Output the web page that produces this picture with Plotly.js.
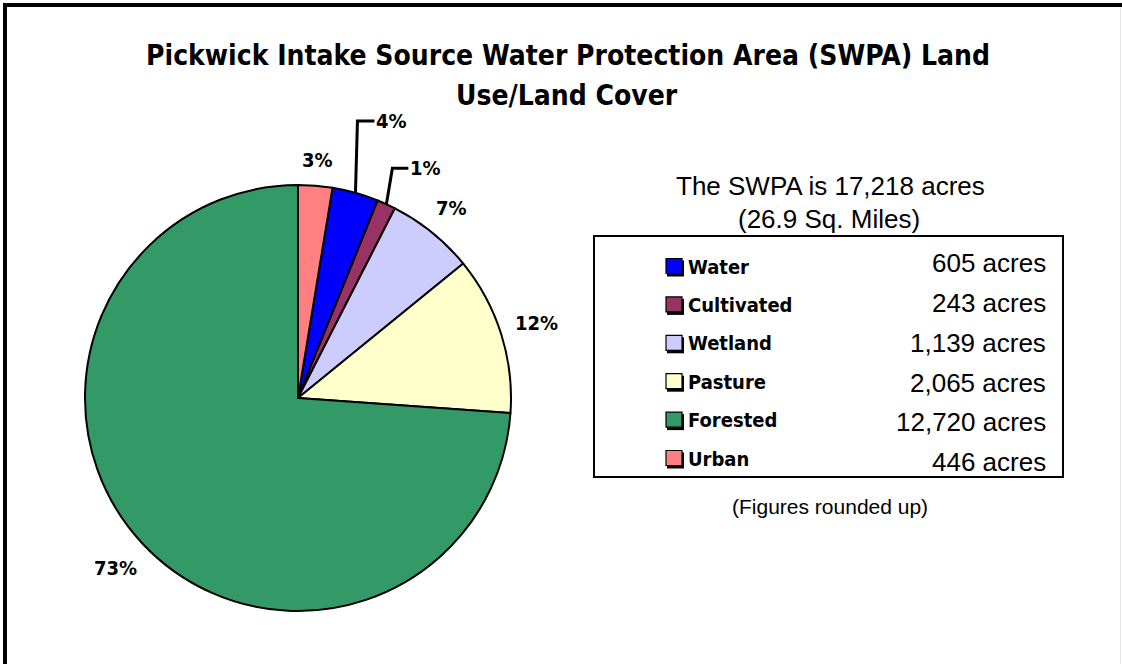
<!DOCTYPE html>
<html>
<head>
<meta charset="utf-8">
<script src="https://cdn.plot.ly/plotly-3.0.1.min.js"></script>
<style>
  html, body { margin: 0; padding: 0; background: #ffffff; }
  #chart { width: 1122px; height: 664px; }
</style>
</head>
<body>
<div id="chart"></div>
<script>
// Land use / land cover categories in the SWPA
const categories = ['Water', 'Cultivated', 'Wetland', 'Pasture', 'Forested', 'Urban'];
const acres = [605, 243, 1139, 2065, 12720, 446];
const percentLabels = ['4%', '1%', '7%', '12%', '73%', '3%'];
const acreLabels = ['605 acres', '243 acres', '1,139 acres', '2,065 acres', '12,720 acres', '446 acres'];
const sliceColors = ['#0000FF', '#993366', '#CCCCFF', '#FFFFCC', '#339966', '#FF8080'];

const titleLine1 = 'Pickwick Intake Source Water Protection Area (SWPA) Land';
const titleLine2 = 'Use/Land Cover';
const totalLine1 = 'The SWPA is 17,218 acres';
const totalLine2 = '(26.9 Sq. Miles)';
const footNote = '(Figures rounded up)';

const W = 1122, H = 664;
const px = x => x / W;          // pixel -> paper x
const py = y => 1 - y / H;      // pixel -> paper y

const heavy = { family: '"DejaVu Sans Condensed", "DejaVu Sans", sans-serif', weight: 'bold', color: '#000000' };
const plain = { family: '"Liberation Sans", Arial, sans-serif', color: '#000000' };

// Pie placement (pixels)
const pieLeft = 85, pieTop = 185, pieSize = 426;
const cx = pieLeft + pieSize / 2, cy = pieTop + pieSize / 2, R = pieSize / 2;

// The last category is drawn first, starting at 12 o'clock
const total = acres.reduce((a, b) => a + b, 0);
const startRotation = acres[acres.length - 1] / total * 360;

const pie = {
  type: 'pie',
  labels: categories,
  values: acres,
  textinfo: 'none',
  sort: false,
  direction: 'clockwise',
  rotation: startRotation,
  marker: { colors: sliceColors, line: { color: '#000000', width: 2 } },
  domain: { x: [px(pieLeft), px(pieLeft + pieSize)], y: [py(pieTop + pieSize), py(pieTop)] },
  hoverinfo: 'label+value+percent',
  showlegend: false
};

const shapes = [
  // outer frame
  { type: 'line', xref: 'paper', yref: 'paper', x0: px(3), x1: px(1122), y0: py(5), y1: py(5), line: { color: '#000', width: 4 } },
  { type: 'line', xref: 'paper', yref: 'paper', x0: px(5), x1: px(5), y0: py(3), y1: py(664), line: { color: '#000', width: 4 } },
  { type: 'line', xref: 'paper', yref: 'paper', x0: px(1120.5), x1: px(1120.5), y0: py(7), y1: py(664), line: { color: '#e6e6e6', width: 1 } },
  // legend box
  { type: 'rect', xref: 'paper', yref: 'paper', x0: px(594), x1: px(1063), y0: py(236), y1: py(477), line: { color: '#000', width: 2 }, fillcolor: 'rgba(0,0,0,0)' }
];

const annotations = [
  { text: titleLine2, xref: 'paper', yref: 'paper', x: px(567), y: py(95), xanchor: 'center', yanchor: 'middle', showarrow: false, font: Object.assign({ size: 28 }, heavy) },
  { text: totalLine1, xref: 'paper', yref: 'paper', x: px(830), y: py(186), xanchor: 'center', yanchor: 'middle', showarrow: false, font: Object.assign({ size: 26 }, plain) },
  { text: totalLine2, xref: 'paper', yref: 'paper', x: px(829), y: py(219), xanchor: 'center', yanchor: 'middle', showarrow: false, font: Object.assign({ size: 26 }, plain) },
  { text: footNote, xref: 'paper', yref: 'paper', x: px(830), y: py(506), xanchor: 'center', yanchor: 'middle', showarrow: false, font: Object.assign({ size: 21 }, plain) }
];

// Percentage labels outside each slice, placed along the slice's mid angle
const labelFont = Object.assign({ size: 20 }, heavy);
const charW = 13, halfH = 9, labelGap = 16;
// small slices get an elbow leader: rise above the rim, then a short run to the right
const leaders = { 0: { rise: 72, lean: 2, run: 17 }, 1: { rise: 36, lean: 6, run: 16 } };
let angle = startRotation;
acres.forEach((v, i) => {
  const sweep = v / total * 360;
  const mid = (angle + sweep / 2) * Math.PI / 180;
  angle += sweep;
  const dx = Math.sin(mid), dy = -Math.cos(mid);
  const rimX = cx + R * dx, rimY = cy + R * dy;
  const ld = leaders[i];
  if (ld) {
    const topY = rimY - ld.rise, bendX = rimX + ld.lean, endX = bendX + ld.run;
    shapes.push({ type: 'path', xref: 'paper', yref: 'paper',
      path: `M ${px(rimX)} ${py(rimY)} L ${px(bendX)} ${py(topY)} L ${px(endX)} ${py(topY)}`,
      line: { color: '#000', width: 3 } });
    annotations.push({ text: percentLabels[i], xref: 'paper', yref: 'paper', x: px(endX), y: py(topY),
      xanchor: 'left', yanchor: 'middle', showarrow: false, font: labelFont });
  } else {
    const halfW = percentLabels[i].length * charW / 2;
    const dist = R + labelGap + halfW * Math.abs(dx) + halfH * Math.abs(dy);
    annotations.push({ text: percentLabels[i], xref: 'paper', yref: 'paper',
      x: px(cx + dist * dx), y: py(cy + dist * dy),
      xanchor: 'center', yanchor: 'middle', showarrow: false, font: labelFont });
  }
});

// Legend rows: swatch, category name and acreage
const nameTop = 266.5, nameStep = 38.4, acreTop = 263.5, acreStep = 39.7;
categories.forEach((name, i) => {
  const yc = nameTop + i * nameStep;
  shapes.push({ type: 'rect', xref: 'paper', yref: 'paper', x0: px(667), x1: px(684), y0: py(yc - 6), y1: py(yc + 10), line: { width: 0 }, fillcolor: '#000' });
  shapes.push({ type: 'rect', xref: 'paper', yref: 'paper', x0: px(666), x1: px(682), y0: py(yc - 8), y1: py(yc + 7), line: { color: '#000', width: 1.2 }, fillcolor: sliceColors[i] });
  annotations.push({ text: name, xref: 'paper', yref: 'paper', x: px(686), y: py(yc), xanchor: 'left', yanchor: 'middle', showarrow: false, font: Object.assign({ size: 20 }, heavy) });
  annotations.push({ text: acreLabels[i], xref: 'paper', yref: 'paper', x: px(1048), y: py(acreTop + i * acreStep), xanchor: 'right', yanchor: 'middle', showarrow: false, font: Object.assign({ size: 26 }, plain) });
});

const layout = {
  width: W, height: H,
  margin: { l: 0, r: 0, t: 0, b: 0 },
  paper_bgcolor: '#ffffff',
  plot_bgcolor: '#ffffff',
  title: { text: titleLine1, x: px(568), xanchor: 'center', y: py(55), yanchor: 'middle', font: Object.assign({ size: 28 }, heavy) },
  shapes: shapes,
  annotations: annotations
};

Plotly.newPlot('chart', [pie], layout, { displayModeBar: false, staticPlot: true });
</script>
</body>
</html>
